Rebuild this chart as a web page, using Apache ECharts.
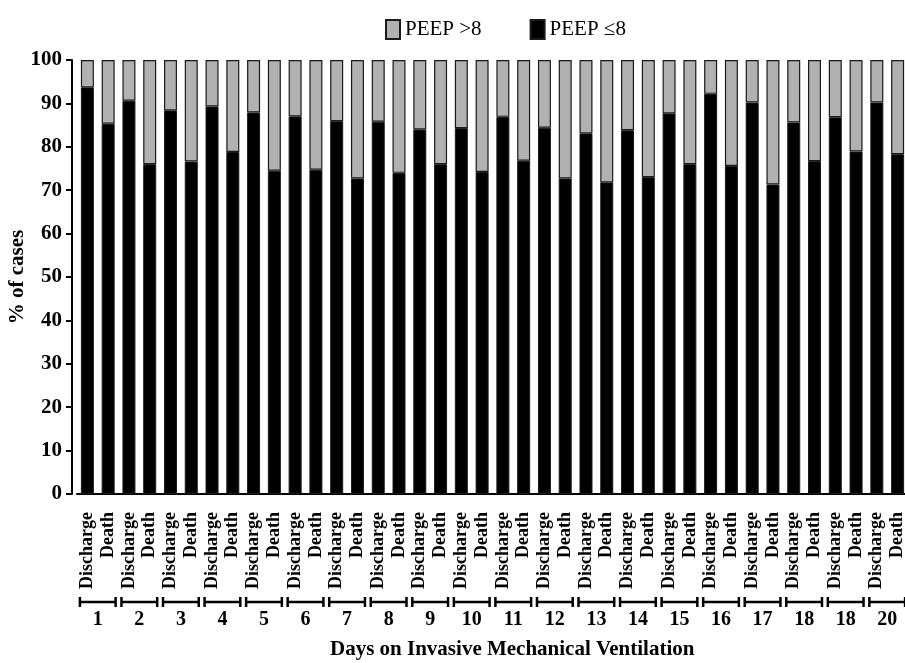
<!DOCTYPE html>
<html>
<head>
<meta charset="utf-8">
<script src="https://cdn.jsdelivr.net/npm/echarts@6/dist/echarts.min.js"></script>
<style>html,body{margin:0;padding:0;background:#fff}#c{width:905px;height:663px}</style>
</head>
<body>
<div id="c"></div>
<script>
var days = ['1','2','3','4','5','6','7','8','9','10','11','12','13','14','15','16','17','18','18','20'];
var outcomes = ['Discharge','Death'];
var dischargeLow = [93.7,90.6,88.4,89.3,87.9,87.0,85.9,85.8,84.0,84.3,86.9,84.4,83.1,83.8,87.7,92.2,90.2,85.6,86.8,90.2];
var deathLow     = [85.3,76.0,76.6,78.8,74.5,74.7,72.7,74.0,76.0,74.2,76.8,72.7,71.8,73.0,76.0,75.6,71.3,76.7,78.9,78.3];
var yTicks = [0,10,20,30,40,50,60,70,80,90,100];

var categories = [], low = [], high = [];
days.forEach(function(d, i){
  categories.push(outcomes[0]); low.push(dischargeLow[i]); high.push(+(100 - dischargeLow[i]).toFixed(1));
  categories.push(outcomes[1]); low.push(deathLow[i]); high.push(+(100 - deathLow[i]).toFixed(1));
});
var dayIdx = days.map(function(d, i){ return [i]; });

var serif = 'Liberation Serif';
var chart = echarts.init(document.getElementById('c'));
chart.setOption({
  animation: false,
  title: {
    text: 'Days on Invasive Mechanical Ventilation',
    left: 325, top: 634,
    textStyle: {fontFamily: serif, fontWeight: 'bold', fontSize: 21, color: '#000'}
  },
  legend: {
    data: ['PEEP >8', 'PEEP \u22648'],
    left: 380, top: 14,
    icon: 'rect', itemWidth: 14, itemHeight: 19, itemGap: 48,
    textStyle: {fontFamily: serif, fontSize: 21, color: '#000'}
  },
  grid: {left: 77, right: -3, top: 60, bottom: 169, containLabel: false, outerBoundsMode: 'none'},
  xAxis: [{
    type: 'category', data: categories,
    axisLine: {lineStyle: {color: '#000', width: 2}},
    axisTick: {alignWithLabel: true, length: 6, lineStyle: {color: '#000', width: 2}},
    axisLabel: {interval: 0, rotate: 90, margin: 18, fontFamily: serif, fontWeight: 'bold', fontSize: 18, color: '#000'}
  }, {
    type: 'category', data: days, position: 'bottom', offset: 112,
    axisLine: {show: false}, axisTick: {show: false},
    axisLabel: {interval: 0, margin: 4, fontFamily: serif, fontWeight: 'bold', fontSize: 20, color: '#000'}
  }],
  yAxis: {
    type: 'value', min: 0, max: 100, interval: 10, offset: 5,
    name: '% of cases', nameLocation: 'middle', nameGap: 44, nameMoveOverlap: false,
    nameTextStyle: {fontFamily: serif, fontWeight: 'bold', fontSize: 21, color: '#000'},
    axisLine: {show: true, lineStyle: {color: '#000', width: 2}},
    axisTick: {show: true, length: 6, lineStyle: {color: '#000', width: 2}},
    splitLine: {show: false},
    axisLabel: {margin: 10, fontFamily: serif, fontWeight: 'bold', fontSize: 21, color: '#000',
      formatter: function(v){ return yTicks.indexOf(v) >= 0 ? String(v) : ''; }}
  },
  series: [{
    name: 'PEEP \u22648', type: 'bar', stack: 'a', data: low, barWidth: 13,
    itemStyle: {color: '#000', borderColor: '#1a1a1a', borderWidth: 1}
  }, {
    name: 'PEEP >8', type: 'bar', stack: 'a', data: high, barWidth: 13,
    itemStyle: {color: '#b1b1b1', borderColor: '#1a1a1a', borderWidth: 1.2}
  }, {
    type: 'custom', xAxisIndex: 1, yAxisIndex: 0, data: dayIdx, clip: false, silent: true,
    renderItem: function(params, api){
      var p = api.coord([api.value(0), 0]);
      var w = api.size([1, 0])[0];
      var h = w * 0.43;
      var y = p[1] + 108;
      var s = {stroke: '#000', lineWidth: 2.5};
      return {type: 'group', children: [
        {type: 'line', shape: {x1: p[0] - h, y1: y, x2: p[0] + h, y2: y}, style: s},
        {type: 'line', shape: {x1: p[0] - h, y1: y - 5, x2: p[0] - h, y2: y + 5}, style: s},
        {type: 'line', shape: {x1: p[0] + h, y1: y - 5, x2: p[0] + h, y2: y + 5}, style: s}
      ]};
    }
  }]
});
</script>
</body>
</html>
